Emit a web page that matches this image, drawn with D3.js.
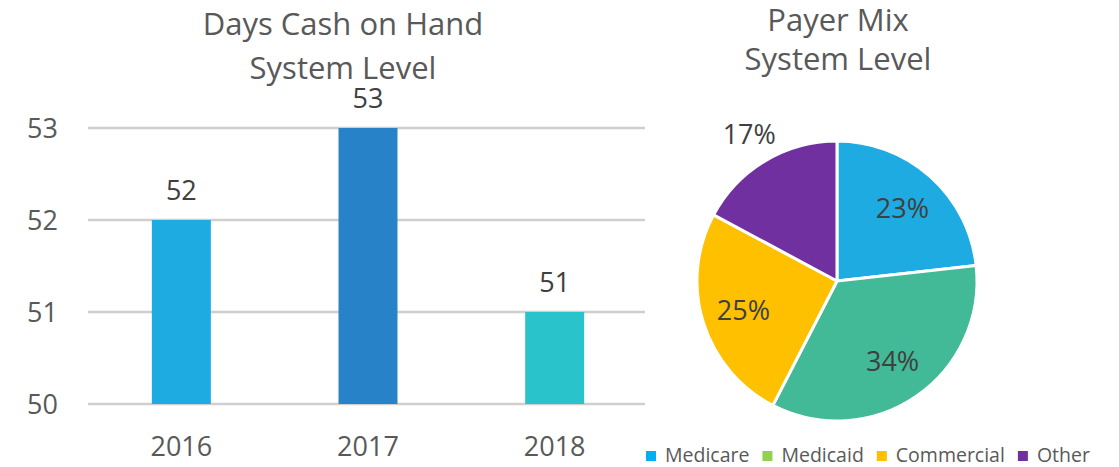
<!DOCTYPE html>
<html>
<head>
<meta charset="utf-8">
<script src="https://cdn.jsdelivr.net/npm/d3@7"></script>
<style>
  html, body { margin: 0; padding: 0; background: #fff; }
  svg { display: block; font-family: "Open Sans", "Noto Sans", sans-serif; }
</style>
</head>
<body>
<svg id="chart" width="1119" height="467"></svg>
<script>
// Days cash on hand, system level
const years = ["2016", "2017", "2018"];
const daysCash = [52, 53, 51];
const barColors = ["#1EABE2", "#2882C8", "#29C4CB"];
const yTicks = [50, 51, 52, 53];

// Payer mix, system level (percent)
const payers = ["Medicare", "Medicaid", "Commercial", "Other"];
const payerShare = [23, 34, 25, 17];
const sliceColors = ["#1EABE2", "#43BA97", "#FFC000", "#7030A0"];
const legendColors = ["#00B0F0", "#92D050", "#FFC000", "#7030A0"];

const svg = d3.select("#chart");
const grey = "#595959";
const dark = "#404040";

// ---------- Bar chart ----------
const x = d3.scaleBand().domain(years).range([88, 648])
  .paddingInner(0.684).paddingOuter(0.342);
const y = d3.scaleLinear().domain([50, 53]).range([404, 128]);

const bar = svg.append("g");

bar.append("g").selectAll("line").data(yTicks).join("line")
  .attr("x1", 88).attr("x2", 645)
  .attr("y1", d => y(d)).attr("y2", d => y(d))
  .attr("stroke", "#cfcfcf").attr("stroke-width", 2.5);

bar.append("g").selectAll("text").data(yTicks).join("text")
  .attr("x", 58).attr("y", d => y(d)).attr("dy", "0.36em")
  .attr("text-anchor", "end").attr("fill", grey)
  .attr("font-size", 27).text(d => d);

bar.append("g").selectAll("rect").data(daysCash).join("rect")
  .attr("x", (d, i) => x(years[i])).attr("width", x.bandwidth())
  .attr("y", d => y(d)).attr("height", d => y(50) - y(d))
  .attr("fill", (d, i) => barColors[i]);

bar.append("g").selectAll("text").data(daysCash).join("text")
  .attr("x", (d, i) => x(years[i]) + x.bandwidth() / 2)
  .attr("y", d => y(d) - 20)
  .attr("text-anchor", "middle").attr("fill", dark)
  .attr("font-size", 27).text(d => d);

bar.append("g").selectAll("text").data(years).join("text")
  .attr("x", d => x(d) + x.bandwidth() / 2).attr("y", 456)
  .attr("text-anchor", "middle").attr("fill", grey)
  .attr("font-size", 27).text(d => d);

const t1 = bar.append("text").attr("text-anchor", "middle")
  .attr("fill", grey).attr("font-size", 31);
t1.append("tspan").attr("x", 343).attr("y", 35).text("Days Cash on Hand");
t1.append("tspan").attr("x", 343).attr("y", 79).text("System Level");

// ---------- Pie chart ----------
const cx = 837, cy = 281, R = 140;
const pie = d3.pie().sort(null).value(d => d);
const arcs = pie(payerShare);
const arc = d3.arc().innerRadius(0).outerRadius(R);

const pg = svg.append("g").attr("transform", `translate(${cx},${cy})`);
pg.selectAll("path").data(arcs).join("path")
  .attr("d", arc)
  .attr("fill", (d, i) => sliceColors[i])
  .attr("stroke", "#fff").attr("stroke-width", 3)
  .attr("stroke-linejoin", "round");

// small slices get their label outside the pie
pg.selectAll("text").data(arcs).join("text")
  .attr("transform", d => {
    const r = d.data < 20 ? R * 1.22 : R * 0.7;
    const a = (d.startAngle + d.endAngle) / 2;
    return `translate(${Math.sin(a) * r},${-Math.cos(a) * r})`;
  })
  .attr("dy", "0.36em").attr("text-anchor", "middle")
  .attr("fill", dark).attr("font-size", 27)
  .text(d => d.data + "%");

const t2 = svg.append("text").attr("text-anchor", "middle")
  .attr("fill", grey).attr("font-size", 31);
t2.append("tspan").attr("x", 838).attr("y", 31).text("Payer Mix");
t2.append("tspan").attr("x", 838).attr("y", 70).text("System Level");

// ---------- Legend ----------
const lg = svg.append("g");
let lx = 646;
payers.forEach((name, i) => {
  lg.append("rect").attr("x", lx).attr("y", 451).attr("width", 10).attr("height", 10)
    .attr("fill", legendColors[i]);
  const t = lg.append("text").attr("x", lx + 19).attr("y", 462)
    .attr("fill", grey).attr("font-size", 19.5).text(name);
  lx += 19 + t.node().getComputedTextLength() + 13;
});
</script>
</body>
</html>
